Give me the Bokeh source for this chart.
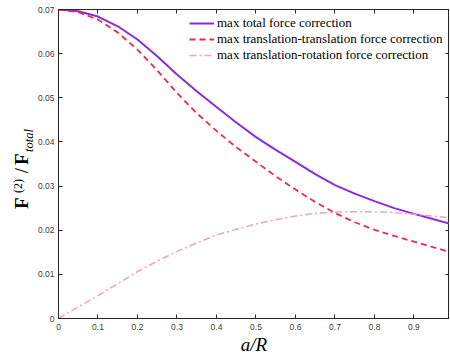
from bokeh.plotting import figure
from bokeh.models import (Range1d, FixedTicker, LinearAxis, Legend,
                          LegendItem, CustomJSTickFormatter, Div)
from bokeh.layouts import row
from bokeh.embed import file_html
from bokeh.resources import INLINE

# ---- data ----
a_over_R = [0.0, 0.05, 0.1, 0.15, 0.2, 0.25, 0.3, 0.35, 0.4, 0.45, 0.5,
            0.55, 0.6, 0.65, 0.7, 0.75, 0.8, 0.85, 0.9, 0.95, 0.99]
total_corr = [0.0700, 0.0696, 0.0684, 0.0662, 0.0632, 0.0594, 0.0553, 0.0515,
              0.0479, 0.0444, 0.0411, 0.0382, 0.0355, 0.0327, 0.0302, 0.0283,
              0.0266, 0.0250, 0.0237, 0.0225, 0.0215]
tt_corr = [0.0700, 0.0694, 0.0677, 0.0648, 0.0609, 0.0562, 0.0511, 0.0465,
           0.0425, 0.0388, 0.0355, 0.0322, 0.0292, 0.0264, 0.0239, 0.0218,
           0.0201, 0.0187, 0.0174, 0.0161, 0.0151]
tr_corr = [0.0, 0.0026, 0.0052, 0.0079, 0.0106, 0.0130, 0.0152, 0.0171,
           0.0189, 0.0202, 0.0214, 0.0224, 0.0232, 0.0238, 0.0241, 0.0242,
           0.0242, 0.0240, 0.0236, 0.0232, 0.0228]
x_ticks = [0, 0.1, 0.2, 0.3, 0.4, 0.5, 0.6, 0.7, 0.8, 0.9]
y_ticks = [0, 0.01, 0.02, 0.03, 0.04, 0.05, 0.06, 0.07]
series_names = ["max total force correction",
                "max translation-translation force correction",
                "max translation-rotation force correction"]

X0, X1 = 0.0, 0.99
Y0, Y1 = 0.0, 0.07

DIV_W = 33
W, H = 449 - DIV_W, 357

p = figure(width=W, height=H, output_backend="svg", toolbar_location=None,
           x_range=Range1d(X0, X1), y_range=Range1d(Y0, Y1),
           min_border_left=25, min_border_right=0, min_border_top=9,
           min_border_bottom=37, x_axis_type=None, y_axis_type=None,
           margin=0)
p.grid.visible = False
p.outline_line_color = "#262626"
p.background_fill_color = "white"
p.border_fill_color = "white"

AX = "#262626"
TICKFONT = "Liberation Sans"


def style_axis(ax, labels=True):
    ax.axis_line_color = AX
    ax.axis_line_width = 1
    ax.major_tick_line_color = AX
    ax.major_tick_in = 4
    ax.major_tick_out = 0
    ax.minor_tick_line_color = None
    ax.major_label_text_font = TICKFONT
    ax.major_label_text_color = "#404040"
    if labels:
        ax.major_label_text_font_size = "8.5px"
    else:
        ax.major_label_text_font_size = "0px"
        ax.major_label_standoff = 0
        ax.formatter = CustomJSTickFormatter(code="return ''")


xb = LinearAxis(ticker=FixedTicker(ticks=x_ticks))
style_axis(xb)
xb.major_label_standoff = 5
xb.major_label_overrides = {t: ("0" if t == 0 else f"{t:g}") for t in x_ticks}
xb.axis_label = "a/R"
xb.axis_label_text_font = "Liberation Serif"
xb.axis_label_text_font_style = "italic"
xb.axis_label_text_font_size = "19px"
xb.axis_label_text_color = "#000000"
xb.axis_label_standoff = 1
p.add_layout(xb, "below")

yl = LinearAxis(ticker=FixedTicker(ticks=y_ticks))
style_axis(yl)
yl.major_label_standoff = 4
yl.major_label_overrides = {t: ("0" if t == 0 else f"{t:g}") for t in y_ticks}
p.add_layout(yl, "left")

xt = LinearAxis(ticker=FixedTicker(ticks=x_ticks))
style_axis(xt, labels=False)
p.add_layout(xt, "above")

yr = LinearAxis(ticker=FixedTicker(ticks=y_ticks))
style_axis(yr, labels=False)
p.add_layout(yr, "right")

r1 = p.line(a_over_R, total_corr, line_color="#8a2be2", line_width=2)
r2 = p.line(a_over_R, tt_corr, line_color="#f0284e", line_width=1.8,
            line_dash="6 4")
r3 = p.line(a_over_R, tr_corr, line_color="#f4a0c2", line_width=1.5,
            line_dash="7 3 2 3")

legend = Legend(items=[LegendItem(label=series_names[0], renderers=[r1]),
                       LegendItem(label=series_names[1], renderers=[r2]),
                       LegendItem(label=series_names[2], renderers=[r3])],
                location=(131, 255), orientation="vertical")
legend.border_line_color = None
legend.background_fill_alpha = 0
legend.padding = 0
legend.margin = 0
legend.spacing = 0
legend.glyph_width = 25
legend.glyph_height = 14
legend.label_height = 14
legend.label_standoff = 3
legend.label_text_font = "Liberation Serif"
legend.label_text_font_size = "13px"
legend.label_text_color = "#000000"
p.add_layout(legend, "center")

# y axis label  F^(2)/F_total  as rotated HTML text
ylabel_html = (
    '<div style="transform: translate(9px, 209px) rotate(-90deg); '
    'transform-origin: 0 0; white-space: nowrap; '
    "font-family: 'Liberation Serif', serif; font-size: 19px; "
    'line-height: 19px; color: #000; width: 100px;">'
    '<span style="display:inline-block;width:16px;font-weight:bold">F</span>'
    '<span style="display:inline-block;width:17px;font-size:12px;'
    'vertical-align:6px">(2)</span>'
    '<span style="display:inline-block;width:11px;text-align:center">/</span>'
    '<span style="display:inline-block;width:13px;font-weight:bold">F</span>'
    '<span style="font-size:12.5px;font-style:italic;vertical-align:-5px">'
    'total</span></div>'
)
div = Div(text=ylabel_html, width=DIV_W, height=H, margin=0,
          styles={"overflow": "visible"})

layout = row(div, p, spacing=0, margin=0)
open("out.html", "w").write(file_html(layout, INLINE))
